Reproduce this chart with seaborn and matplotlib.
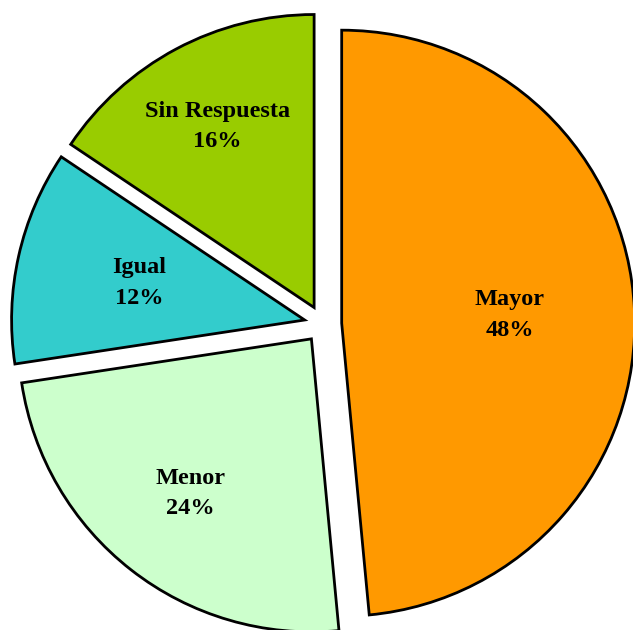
import numpy as np
import matplotlib
matplotlib.use('Agg')
import matplotlib.pyplot as plt
import seaborn as sns

# Data
categorias = ['Mayor', 'Menor', 'Igual', 'Sin Respuesta']
etiquetas_pct = ['48%', '24%', '12%', '16%']
# slice sizes as measured from the wedge angles
tamanos = [48.5, 24.1, 11.8, 15.6]
colores = ['#FF9900', '#CCFFCC', '#33CCCC', '#99CC00']

sns.set_theme(style='white')
plt.rcParams['font.family'] = ['Liberation Serif', 'DejaVu Serif']

fig = plt.figure(figsize=(6.33, 6.30), dpi=100)
ax = fig.add_axes([0, 0, 1, 1])

wedges, _ = ax.pie(tamanos, colors=colores, startangle=90, counterclock=False,
                   explode=[0.064] * len(tamanos),
                   wedgeprops={'edgecolor': 'black', 'linewidth': 2})

# label distance from each wedge's (exploded) centre, as a fraction of the radius
label_r = [0.575, 0.67, 0.577, 0.70]
for w, cat, pct, r in zip(wedges, categorias, etiquetas_pct, label_r):
    ang = np.deg2rad((w.theta1 + w.theta2) / 2)
    cx, cy = w.center
    ax.text(cx + r * np.cos(ang), cy + r * np.sin(ang), f'{cat}\n{pct}',
            ha='center', va='center', fontsize=17.5, fontweight='bold',
            linespacing=1.6, color='black')

ax.set_xlim(-1.102, 1.058)
ax.set_ylim(-1.044, 1.106)
ax.set_aspect('auto')
ax.axis('off')

fig.savefig('out.png', dpi=100, facecolor='white')
